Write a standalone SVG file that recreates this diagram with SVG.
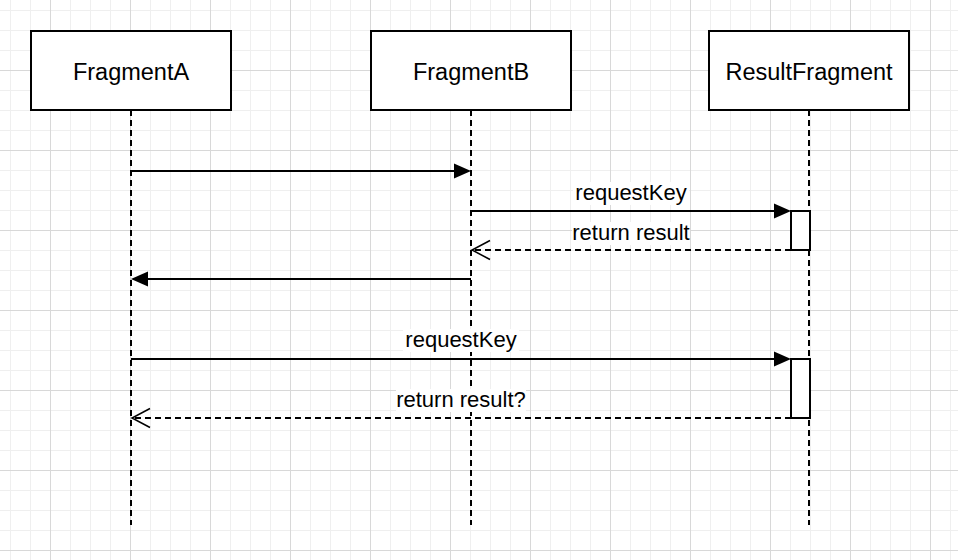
<svg xmlns="http://www.w3.org/2000/svg" width="958" height="560" viewBox="0 0 958 560">
<style>
.box{fill:#fff;stroke:#000;stroke-width:2}
.life{stroke:#000;stroke-width:2;stroke-dasharray:6 4;fill:none}
.msg{stroke:#000;stroke-width:2;fill:none}
.ret{stroke:#000;stroke-width:2;fill:none;stroke-dasharray:6 4}
.act{fill:#fff;stroke:#000;stroke-width:2}
.t{font-family:"Liberation Sans",Arial,Helvetica,sans-serif;font-size:23.5px;fill:#000;text-anchor:middle}
.l{font-family:"Liberation Sans",Arial,Helvetica,sans-serif;font-size:22px;fill:#000;text-anchor:middle}
.bg{fill:#fff}
</style>
<defs>
<pattern id="minor" width="20" height="20" patternUnits="userSpaceOnUse" x="0" y="0">
<path d="M10.5,0 V20 M0,10.5 H20" stroke="#efefef" stroke-width="1" fill="none"/>
</pattern>
<pattern id="major" width="80" height="80" patternUnits="userSpaceOnUse" x="0" y="0">
<path d="M50.5,0 V80 M0,70.5 H80" stroke="#d8d8d8" stroke-width="1" fill="none"/>
</pattern>
<marker id="fill" markerUnits="userSpaceOnUse" markerWidth="18" markerHeight="16" refX="7" refY="7.5" orient="auto" overflow="visible">
<path d="M0,0 L17,7.5 L0,15 Z" fill="#000"/>
</marker>
<marker id="open" markerUnits="userSpaceOnUse" markerWidth="20" markerHeight="20" refX="18" refY="9.5" orient="auto" overflow="visible">
<path d="M0,0 L18,9.5 L0,19" fill="none" stroke="#000" stroke-width="1.5"/>
</marker>
</defs>
<rect width="958" height="560" fill="#fff"/>
<rect width="958" height="560" fill="url(#minor)"/>
<rect width="958" height="560" fill="url(#major)"/>

<g id="lifelines">
<line class="life" x1="131" y1="110" x2="131" y2="525"/>
<line class="life" x1="471" y1="110" x2="471" y2="525"/>
<line class="life" x1="809" y1="110" x2="809" y2="525"/>
</g>

<g id="fragmentA">
<rect class="box" x="31" y="31" width="200" height="79"/>
<text class="t" x="131" y="80">FragmentA</text>
</g>
<g id="fragmentB">
<rect class="box" x="371" y="31" width="200" height="79"/>
<text class="t" x="471" y="80">FragmentB</text>
</g>
<g id="resultFragment">
<rect class="box" x="709" y="31" width="200" height="79"/>
<text class="t" x="809" y="80">ResultFragment</text>
</g>

<g id="activation1">
<rect class="act" x="791" y="211" width="19" height="39"/>
</g>
<g id="activation2">
<rect class="act" x="791" y="359" width="19" height="59"/>
</g>

<g id="connectors">
<line class="msg" x1="131" y1="171" x2="461" y2="171" marker-end="url(#fill)"/>
<line class="msg" x1="471" y1="211" x2="781" y2="211" marker-end="url(#fill)"/>
<line class="ret" x1="791" y1="250" x2="472" y2="250" marker-end="url(#open)"/>
<line class="msg" x1="471" y1="279" x2="141" y2="279" marker-end="url(#fill)"/>
<line class="msg" x1="131" y1="359" x2="781" y2="359" marker-end="url(#fill)"/>
<line class="ret" x1="791" y1="418" x2="132" y2="418" marker-end="url(#open)"/>

<rect class="bg" x="573" y="182" width="116" height="23"/>
<text class="l" x="631" y="200">requestKey</text>
<rect class="bg" x="572" y="222" width="118" height="23"/>
<text class="l" x="631" y="240">return result</text>
<rect class="bg" x="403" y="329" width="116" height="23"/>
<text class="l" x="461" y="347">requestKey</text>
<rect class="bg" x="396" y="389" width="130" height="23"/>
<text class="l" x="461" y="407">return result?</text>
</g>
</svg>
